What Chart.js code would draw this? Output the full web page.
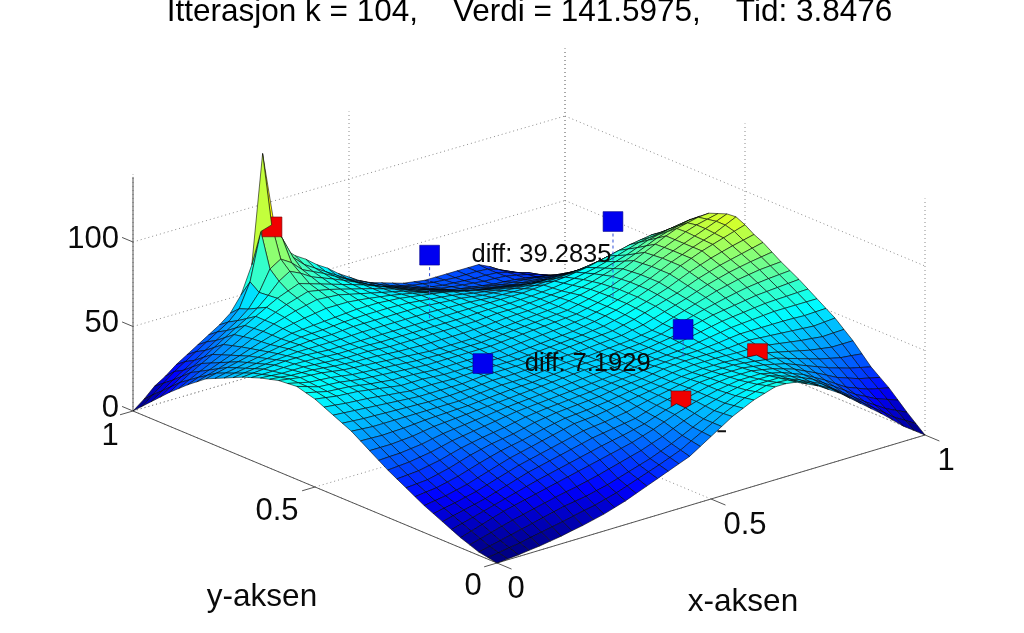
<!DOCTYPE html>
<html><head><meta charset="utf-8">
<style>html,body{margin:0;padding:0;background:#fff}canvas{display:block}</style>
<script src="https://cdn.jsdelivr.net/npm/chart.js@4"></script></head>
<body><canvas id="c" width="1024" height="633"></canvas>
<script>
const titleText='Itterasjon k = 104,    Verdi = 141.5975,    Tid: 3.8476';
const xTicks=[0,0.5,1], yTicks=[0,0.5,1], zTicks=[0,50,100];
const zTop=140, colorTop=136;
const zRows=[
[0,.5,1,1.8,2.5,3.5,4.5,5.8,7,8.5,10,12,14,16.5,19,21.5,24,26.5,29,33,37,41,45,48,51,53,55,55,54,51,48,44,40,35,30,25,20,14.5,9,4.5,0],
[1,2,3,4,5.3,6.5,7.8,9,10.5,11.8,13,14.8,16.5,18.8,21,23.3,25.5,28,30.5,34,37.5,41,44.5,47.3,50,51.8,53.5,53.5,53,50.3,47.5,44,40.5,35.8,31,26.3,21.5,16.8,12,8.3,4.5],
[2,3.5,5,6.5,8,9.5,11,12.5,14,15,16,17.5,19,21,23,25,27,29.5,32,35,38,41,44,46.5,49,50.5,52,52,52,49.5,47,44,41,36.5,32,27.5,23,19,15,12,9],
[4,5.8,7.5,9.3,11,12.5,14,15.5,17,18.3,19.5,21,22.5,24.3,26,27.8,29.5,31.8,34,36.8,39.5,42,44.5,46.5,48.5,49.8,51,51,51,49,47,44.3,41.5,37.5,33.5,29.3,25,21.8,18.5,16.3,14],
[6,8,10,12,14,15.5,17,18.5,20,21.5,23,24.5,26,27.5,29,30.5,32,34,36,38.5,41,43,45,46.5,48,49,50,50,50,48.5,47,44.5,42,38.5,35,31,27,24.5,22,20.5,19],
[8.5,10.3,12,13.8,15.5,17.3,19,20.8,22.5,24,25.5,27,28.5,30,31.5,32.8,34,35.5,37,39.3,41.5,43.3,45,46.5,48,48.8,49.5,49.5,49.5,48.3,47,45,43,40,37,33.8,30.5,28.3,26,24.5,23],
[11,12.5,14,15.5,17,19,21,23,25,26.5,28,29.5,31,32.5,34,35,36,37,38,40,42,43.5,45,46.5,48,48.5,49,49,49,48,47,45.5,44,41.5,39,36.5,34,32,30,28.5,27],
[13.5,14.8,16,17.5,19,21,23,25,27,28.5,30,31.5,33,34.5,36,36.8,37.5,38.5,39.5,41,42.5,43.8,45,46.3,47.5,48,48.5,48.5,48.5,47.8,47,46,45,43,41,39,37,35.5,34,33.3,32.5],
[16,17,18,19.5,21,23,25,27,29,30.5,32,33.5,35,36.5,38,38.5,39,40,41,42,43,44,45,46,47,47.5,48,48,48,47.5,47,46.5,46,44.5,43,41.5,40,39,38,38,38],
[19,19.8,20.5,22,23.5,25.5,27.5,29.3,31,32.3,33.5,35,36.5,37.8,39,39.5,40,40.8,41.5,42.5,43.5,44.3,45,46,47,47.5,48,48,48,47.8,47.5,47.5,47.5,46.5,45.5,44.5,43.5,42.8,42,42.3,42.5],
[22,22.5,23,24.5,26,28,30,31.5,33,34,35,36.5,38,39,40,40.5,41,41.5,42,43,44,44.5,45,46,47,47.5,48,48,48,48,48,48.5,49,48.5,48,47.5,47,46.5,46,46.5,47],
[25,25.5,26,27.3,28.5,30.3,32,33.3,34.5,35.5,36.5,37.8,39,39.8,40.5,41,41.5,42,42.5,43.3,44,44.5,45,45.8,46.5,47,47.5,47.8,48,48.5,49,49.8,50.5,50.5,50.5,50.5,50.5,50.3,50,50.3,50.5],
[28,28.5,29,30,31,32.5,34,35,36,37,38,39,40,40.5,41,41.5,42,42.5,43,43.5,44,44.5,45,45.5,46,46.5,47,47.5,48,49,50,51,52,52.5,53,53.5,54,54,54,54,54],
[31.5,31.8,32,32.8,33.5,34.8,36,36.8,37.5,38.3,39,39.8,40.5,41,41.5,42,42.5,43,43.5,44,44.5,44.8,45,45.5,46,46.5,47,47.8,48.5,49.8,51,52.3,53.5,54.3,55,55.8,56.5,56.8,57,57.3,57.5],
[35,35,35,35.5,36,37,38,38.5,39,39.5,40,40.5,41,41.5,42,42.5,43,43.5,44,44.5,45,45,45,45.5,46,46.5,47,48,49,50.5,52,53.5,55,56,57,58,59,59.5,60,60.5,61],
[38.5,38.3,38,38.3,38.5,39,39.5,39.8,40,40.3,40.5,41,41.5,42,42.5,42.8,43,43.5,44,44.5,45,45,45,45.5,46,46.5,47,48,49,50.8,52.5,54.3,56,57.5,59,60.3,61.5,62.3,63,63.5,64],
[42,41.5,41,41,41,41,41,41,41,41,41,41.5,42,42.5,43,43,43,43.5,44,44.5,45,45,45,45.5,46,46.5,47,48,49,51,53,55,57,59,61,62.5,64,65,66,66.5,67],
[44.5,44,43.5,43.3,43,42.8,42.5,42.3,42,42,42,42.3,42.5,43,43.5,43.5,43.5,43.8,44,44.5,45,45.3,45.5,46,46.5,47,47.5,48.8,50,52,54,56,58,60.3,62.5,64.3,66,67.3,68.5,69.5,70.5],
[47,46.5,46,45.5,45,44.5,44,43.5,43,43,43,43,43,43.5,44,44,44,44,44,44.5,45,45.5,46,46.5,47,47.5,48,49.5,51,53,55,57,59,61.5,64,66,68,69.5,71,72.5,74],
[49.5,48.8,48,47.5,47,46.3,45.5,44.8,44,44,44,43.8,43.5,43.8,44,44,44,44,44,44.5,45,45.5,46,46.5,47,47.8,48.5,50,51.5,53.5,55.5,57.8,60,62.8,65.5,67.8,70,71.8,73.5,75,76.5],
[52,51,50,49.5,49,48,47,46,45,45,45,44.5,44,44,44,44,44,44,44,44.5,45,45.5,46,46.5,47,48,49,50.5,52,54,56,58.5,61,64,67,69.5,72,74,76,78,80],
[53.5,52,50.5,50,49.5,48.5,47.5,46.8,46,45.8,45.5,45,44.5,44.5,44.5,44.5,44.5,44.5,44.5,45,45.5,46,46.5,47,47.5,48.3,49,50.5,52,54,56,58.5,61,64,67,69.5,72,74.3,76.5,79.5,82.5],
[55,53,51,50.5,50,49,48,47.5,47,46.5,46,45.5,45,45,45,45,45,45,45,45.5,46,46.5,47,47.5,48,48.5,49,50.5,52,54,56,58.5,61,64,67,69.5,72,74.5,77,79.5,82],
[54.5,53,51.5,51,50.5,49.5,48.5,48,47.5,47,46.5,46,45.5,45.3,45,45,45,45,45,45.5,46,46.5,47,47.5,48,48.5,49,50.5,52,53.8,55.5,58,60.5,63.5,66.5,69.3,72,74.8,77,78.5,80],
[54,53,52,51.5,51,50,49,48.5,48,47.5,47,46.5,46,45.5,45,45,45,45,45,45.5,46,46.5,47,47.5,48,48.5,49,50.5,52,53.5,55,57.5,60,63,66,69,72,74.5,76,77.5,78],
[52.5,51.8,51,50.8,50.5,49.8,49,48.5,48,47.8,47.5,47,46.5,46.3,46,46,46,46,46,46.3,46.5,47,47.5,47.8,48,48.5,49,50,51,52.5,54,56,58,60.5,63,65.8,68.5,70.5,72,73.5,74],
[51,50.5,50,50,50,49.5,49,48.5,48,48,48,47.5,47,47,47,47,47,47,47,47,47,47.5,48,48,48,48.5,49,49.5,50,51.5,53,54.5,56,58,60,62.5,65,66.5,68,69,70],
[49,49,49,49.3,49.5,49.3,49,48.5,48,48,48,47.8,47.5,47.5,47.5,47.5,47.5,47.5,47.5,47.5,47.5,47.8,48,48,48,48.3,48.5,49,49.5,50.5,51.5,52.8,54,55.8,57.5,59.5,61.5,62.5,63.5,64.3,65],
[47,47.5,48,48.5,49,49,49,48.5,48,48,48,48,48,48,48,48,48,48,48,48,48,48,48,48,48,48,48,48.5,49,49.5,50,51,52,53.5,55,56.5,58,59,60,60,60],
[44.5,45.3,46,46.8,47.5,48,48.5,48.5,48.5,48.5,48.5,48.8,49,49,49,49,49,49,49,48.8,48.5,48.3,48,47.5,47,46.8,46.5,46.5,46.5,46.8,47,47.5,48,49,50,51.3,52.5,53.3,54,54,54],
[42,43,44,45,46,47,48,48.5,49,49,49,49.5,50,50,50,50,50,50,50,49.5,49,48.5,48,47,46,45.5,45,44.5,44,44,44,44,44,44.5,45,46,47,47.5,48,48,48],
[39.5,40.8,42,43.3,44.5,45.8,47,48,49,49.3,49.5,50,50.5,50.8,51,51,51,50.8,50.5,49.8,49,48.3,47.5,46.3,45,44,43,42.3,41.5,41,40.5,40.3,40,40.3,40.5,41.3,42,42.3,42.5,42.5,42.5],
[37,38.5,40,41.5,43,44.5,46,47.5,49,49.5,50,50.5,51,51.5,52,52,52,51.5,51,50,49,48,47,45.5,44,42.5,41,40,39,38,37,36.5,36,36,36,36.5,37,37,37,37,37],
[33,35,37,39,41,43.3,45.5,47.5,49.5,50.8,52,53,54,54,54,53.3,52.5,51.5,50.5,49.3,48,46.5,45,43.5,42,40.3,38.5,37.5,36.5,35.5,34.5,34,33.5,33.3,33,33,33,32.8,32.5,32.3,32],
[29,31.5,34,36.5,39,42,45,47.5,50,52,54,55.5,57,56.5,56,54.5,53,51.5,50,48.5,47,45,43,41.5,40,38,36,35,34,33,32,31.5,31,30.5,30,29.5,29,28.5,28,27.5,27],
[24.5,27.8,31,34,37,40.5,44,47,50,52.8,55.5,57.5,59.5,58.3,57,55.3,53.5,51.8,50,48,46,43.8,41.5,39.8,38,36,34,33,32,31,30,29.5,29,28.3,27.5,26.5,25.5,24.5,23.5,22.8,22],
[20,24,28,31.5,35,39,43,46.5,50,53.5,57,59.5,62,60,58,56,54,52,50,47.5,45,42.5,40,38,36,34,32,31,30,29,28,27.5,27,26,25,23.5,22,20.5,19,18,17],
[15,19.3,23.5,27.3,31,35,39,42.8,46.5,50.8,56.5,63,67,64,60,57.5,55,52.3,49.5,46.5,43.5,40.8,38.5,36.5,34.5,32.5,30.8,29.8,29,28.3,27.5,27.3,26.8,25.5,24,22.3,20,18,16,14.3,12.5],
[10,14.5,19,23,27,31,35,39,43,48,56,68,72,68,62,59,56,52.5,49,45.5,42,39,37,35,33,31,29.5,28.5,28,27.5,27,27,26.5,25,23,21,18,15.5,13,10.5,8],
[5,10,15,20,24,28,32,36,40,46,60,88,90,80,67,61,57,53,49,45,42,39,36,33.5,31.5,30,29,28,27.5,27,27,27,26.5,24.5,21.5,18.5,15.5,12.5,9.5,7,4],
[0,5,11,15,20,24,28,32,36,41,50,66,130,89,70,64,60,55,51,46,42,38,35,33,31,29,28,27,27,27,27,27,27,24,20,17,14,10,6,3,0]
];
const blueMarkers=[[0.477,0.75,79,41],[0.693,0.5,105,58],[0.646,0.25,67,49],[0.306,0.4,59,59]];
// x, y, z, paint depth
const redMarkers=[[0.55,0.142,41.6,0.645],[0.773,0.195,48,0.96],[0.305,0.98,88,1.2]];
const overSpike=[11,39];
const diffLabels=[['diff: 39.2835',0],['diff: 7.1929',3]];

function px(x,y,z){return {x:497+428*x-364*y+4*x*y, y:563-128*x-152*y+2*x*y-1.69*z};}
function jet(t){
  const c=v=>Math.round(255*Math.max(0,Math.min(1,v)));
  return `rgb(${c(Math.min(4*t-1.5,-4*t+4.5))},${c(Math.min(4*t-0.5,-4*t+3.5))},${c(Math.min(4*t+0.5,-4*t+2.5))})`;
}
const datasets=[];
const lineDs=(pts,color,w,dash)=>({type:'scatter',showLine:true,data:pts,borderColor:color,borderWidth:w,borderDash:dash||[],pointRadius:0,fill:false,tension:0,clip:false});
blueMarkers.forEach(m=>{
  datasets.push({type:'scatter',data:[px(m[0],m[1],m[2])],pointStyle:'rect',pointRadius:14,pointBackgroundColor:'#0000f0',pointBorderColor:'#00008a',pointBorderWidth:0.6,clip:false});
});
blueMarkers.forEach(m=>{ if(m[2]!==m[3]) datasets.push(lineDs([px(m[0],m[1],m[2]),px(m[0],m[1],m[3])],'#3050d8',1,[3,3])); });
const n=zRows.length-1;
const cellDepth=(i,j)=>(i===overSpike[0]&&j===overSpike[1])?1.19:(i+j+1)/n;
const cells=[];
for(let j=0;j<n;j++)for(let i=0;i<n;i++)cells.push([i,j]);
cells.sort((a,b)=>cellDepth(a[0],a[1])-cellDepth(b[0],b[1]));
let ri=0;
function pushRed(m){datasets.push({type:'scatter',data:[px(m[0],m[1],m[2])],pointStyle:'rect',pointRadius:14,pointBackgroundColor:'#f00000',pointBorderColor:'#700000',pointBorderWidth:0.6,clip:false});}
cells.forEach(([i,j])=>{
  const d=cellDepth(i,j);
  while(ri<redMarkers.length&&redMarkers[ri][3]<d){pushRed(redMarkers[ri]);ri++;}
  const a=zRows[j][i],b=zRows[j][i+1],c=zRows[j+1][i+1],e=zRows[j+1][i];
  const s=[a,b,c,e].sort((p,q)=>p-q);
  const pts=[px(i/n,j/n,a),px((i+1)/n,j/n,b),px((i+1)/n,(j+1)/n,c),px(i/n,(j+1)/n,e),px(i/n,j/n,a)];
  datasets.push({type:'scatter',showLine:true,data:pts,fill:'shape',backgroundColor:jet((s[0]+s[1])/2/colorTop),borderColor:'rgba(0,0,0,0.68)',borderWidth:0.85,pointRadius:0,tension:0,clip:false});
});
datasets.push(lineDs([px(0.515,0,39),px(0.535,0,37.5)],'#111',2));
const axC='#555';
datasets.push(lineDs([px(0,1,0),px(0,1,138.5)],axC,1));
datasets.push(lineDs([px(0,1,0),px(0,0,0)],axC,1));
datasets.push(lineDs([px(0,0,0),px(1,0,0)],axC,1));
zTicks.forEach(t=>datasets.push(lineDs([px(0,1,t),px(0,1.03,t)],axC,1)));
xTicks.forEach(t=>datasets.push(lineDs([px(t,0,0),px(t,-0.04,0)],axC,1)));
yTicks.forEach(t=>datasets.push(lineDs([px(0,t,0),px(-0.03,t,0)],axC,1)));
const gc='#8a8a8a',gd=[1,3];
zTicks.forEach(t=>{datasets.push(lineDs([px(0,1,t),px(1,1,t)],gc,1,gd));datasets.push(lineDs([px(1,1,t),px(1,0,t)],gc,1,gd));});
xTicks.forEach(t=>{datasets.push(lineDs([px(t,1,0),px(t,1,zTop)],gc,1,gd));datasets.push(lineDs([px(t,0,0),px(t,1,0)],gc,1,gd));});
yTicks.forEach(t=>{datasets.push(lineDs([px(1,t,0),px(1,t,zTop)],gc,1,gd));datasets.push(lineDs([px(0,t,0),px(1,t,0)],gc,1,gd));});

const labels={id:'labels',afterDraw(ch){
  const g=ch.ctx;g.save();g.fillStyle='#0a0a0a';
  g.font='31px "Liberation Sans"';g.textAlign='center';g.textBaseline='middle';
  const xOff=[[19,26],[34,26],[21,26]],yOff=[[-24,23],[-38,24],[-23,25]];
  xTicks.forEach((t,k)=>{const p=px(t,0,0);g.fillText(String(t),p.x+xOff[k][0],p.y+xOff[k][1]);});
  yTicks.forEach((t,k)=>{const p=px(0,t,0);g.fillText(String(t),p.x+yOff[k][0],p.y+yOff[k][1]);});
  g.textAlign='right';
  zTicks.forEach(t=>{const p=px(0,1,t);g.fillText(String(t),119,p.y-3);});
  g.font='31.5px "Liberation Sans"';g.textAlign='center';
  g.fillText('y-aksen',262,597);g.fillText('x-aksen',743,602);
  g.font='25.5px "Liberation Sans"';g.textAlign='left';
  const q0=blueMarkers[0],q3=blueMarkers[3];
  const a=px(q0[0],q0[1],q0[2]),b=px(q3[0],q3[1],q3[2]);
  g.fillText(diffLabels[0][0],a.x+42,a.y);
  g.fillText(diffLabels[1][0],b.x+42,b.y);
  g.restore();
}};
new Chart(document.getElementById('c'),{type:'scatter',data:{datasets},plugins:[labels],options:{
  responsive:false,animation:false,events:[],
  layout:{autoPadding:false,padding:{left:35,top:0,right:0,bottom:0}},
  plugins:{legend:{display:false},tooltip:{enabled:false},
    title:{display:true,text:titleText,color:'#000',font:{family:'"Liberation Sans"',size:31.5,weight:'normal',lineHeight:1.2},padding:{top:-7,bottom:-31}}},
  scales:{x:{type:'linear',display:false,min:35,max:1024},y:{type:'linear',display:false,min:0,max:633,reverse:true}}
}});
</script></body></html>
